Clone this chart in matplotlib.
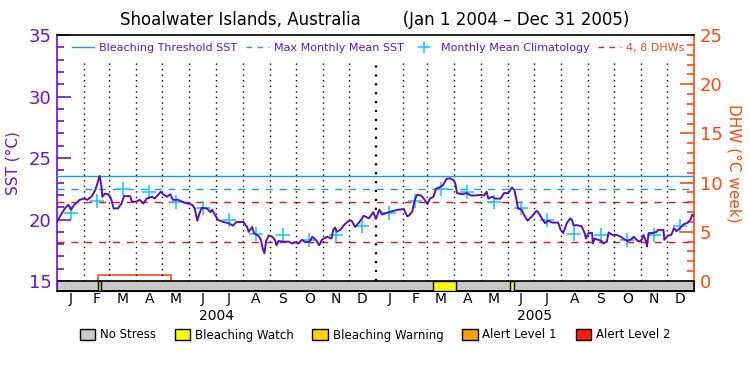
import numpy as np
import matplotlib
matplotlib.use('Agg')
import matplotlib.pyplot as plt
from matplotlib.lines import Line2D
from matplotlib.patches import Patch

# Datos (días desde 1 ene 2004)
sst_day = [0, 3, 9, 13, 16, 20, 26, 31, 35, 40, 44, 47, 49, 51, 52, 55, 59, 62, 65, 70,
           74, 77, 84, 86, 91, 95, 99, 103, 109, 112, 116, 119, 122, 126, 130, 133, 139, 145, 150, 155,
           158, 161, 163, 166, 172, 176, 178, 181, 185, 191, 197, 202, 206, 214, 218, 220, 224, 226, 229, 231,
           234, 236, 238, 240, 243, 247, 250, 252, 254, 260, 266, 270, 273, 277, 281, 285, 290, 293, 297, 301,
           304, 310, 315, 317, 319, 321, 325, 330, 335, 338, 342, 346, 352, 358, 363, 366, 370, 373, 377, 381,
           386, 392, 398, 402, 405, 408, 410, 413, 418, 422, 425, 428, 432, 435, 440, 443, 447, 451, 455, 457,
           459, 465, 470, 475, 480, 486, 490, 493, 495, 499, 503, 509, 513, 518, 522, 525, 527, 529, 533, 537,
           540, 545, 550, 552, 556, 560, 564, 568, 575, 578, 581, 585, 589, 591, 593, 596, 602, 605, 607, 610,
           614, 615, 617, 621, 625, 627, 631, 633, 637, 642, 647, 651, 655, 659, 662, 665, 668, 671, 673, 676,
           677, 679, 684, 688, 690, 696, 697, 701, 705, 708, 711, 715, 719, 724, 727, 729, 731]
sst_val = [19.8, 20.2, 20.9, 21.2, 20.8, 21.2, 21.6, 21.7, 21.6, 21.9, 22.4, 23.1, 23.55, 22.7, 21.85, 22.1, 22.05, 21.7, 20.9, 20.9,
           21.3, 21.9, 21.9, 21.45, 21.45, 21.6, 21.3, 21.7, 21.85, 21.7, 22.0, 22.25, 22.05, 21.85, 22.05, 21.6, 21.6, 21.4, 21.3, 21.2,
           20.9, 19.9, 20.4, 20.95, 20.9, 20.6, 20.8, 20.4, 19.95, 19.8, 19.7, 19.5, 19.8, 19.8, 19.4, 19.0, 19.4, 18.9, 18.75, 18.7,
           18.35, 17.65, 17.25, 18.25, 18.7, 18.6, 18.35, 17.9, 18.25, 18.2, 18.2, 18.05, 18.15, 18.05, 18.35, 18.15, 18.2, 18.6, 18.35, 17.9,
           18.35, 18.6, 18.45, 19.15, 19.35, 19.0, 19.15, 19.6, 19.9, 19.9, 19.4, 19.7, 20.3, 20.1, 20.6, 20.05, 20.8, 20.4, 20.5, 20.6,
           20.7, 20.8, 20.85, 20.25, 20.4, 20.7, 21.45, 22.0, 21.95, 21.6, 21.25, 21.7, 21.85, 22.5, 22.65, 22.8, 23.3, 23.35, 23.2, 22.95,
           22.15, 22.05, 22.15, 21.95, 21.95, 22.0, 21.95, 22.25, 21.7, 21.85, 21.7, 21.7, 22.15, 22.15, 22.6, 22.4, 21.7, 20.9, 20.8, 20.25,
           19.9, 20.25, 20.7, 20.6, 20.15, 19.7, 19.9, 19.75, 19.75, 19.15, 18.9, 19.7, 20.1, 19.95, 19.5, 19.55, 19.45, 19.0, 18.45, 18.9,
           18.9, 18.05, 18.45, 18.35, 18.25, 18.05, 18.2, 18.95, 18.75, 18.75, 18.6, 18.4, 18.25, 18.4, 18.6, 18.35, 18.2, 18.35, 18.75, 18.2,
           17.8, 18.9, 18.9, 19.0, 19.15, 19.15, 18.35, 18.7, 18.75, 19.3, 19.05, 19.3, 19.6, 19.75, 20.0, 20.4, 20.25]

clim_month = [20.5, 21.5, 22.5, 22.2, 21.45, 20.9, 19.95, 18.85, 18.7, 18.35, 18.7, 19.5]
threshold = 23.5
mmm = 22.5
dhw_lines = [4, 8]

dhw_day = [47, 47, 131, 131]
dhw_val = [0, 0.6, 0.6, 0]

# franjas de estrés: (inicio, fin, nivel)
stress = [(47, 51, 'Bleaching Warning'), (432, 458, 'Bleaching Watch'), (520, 524, 'Bleaching Watch')]
stress_colors = {'No Stress': '#c8c8c8', 'Bleaching Watch': '#ffff00', 'Bleaching Warning': '#ffd200',
                 'Alert Level 1': '#ffa000', 'Alert Level 2': '#ff2000'}

months = ['J', 'F', 'M', 'A', 'M', 'J', 'J', 'A', 'S', 'O', 'N', 'D']
years = ['2004', '2005']

purple = '#6a10d8'
linec = '#5510c0'
orange = '#ff4a10'
blue = '#1499ff'
cyan = '#20c8f8'

start = np.datetime64('2004-01-01')
bounds = np.arange(np.datetime64('2004-01'), np.datetime64('2006-02'), np.timedelta64(1, 'M')).astype('datetime64[D]')
bdays = (bounds - start).astype(int)
mids = (bdays[:-1] + bdays[1:]) / 2

fig = plt.figure(figsize=(7.5, 3.75), dpi=100)
ax = fig.add_axes([57/750, 1-291/375, (694-57)/750, (291-35)/375])
ax2 = ax.twinx()
# el eje de SST encima, para que la franja tape la línea DHW en cero
ax.set_zorder(ax2.get_zorder() + 1)
ax.patch.set_visible(False)

px_sst = 246 / 20
ax.set_ylim(15 - 10/px_sst, 35)
px_dhw = 246 / 25
ax2.set_ylim(-10/px_dhw, 25)
ax.set_xlim(0, 731)
ax2.set_xlim(0, 731)

# líneas verticales de los meses
for i, d in enumerate(bdays[1:-1]):
    lw = 1.6 if i == 11 else 1.0
    ax.vlines(d, 15, 32.7, colors='black', linestyles=(0, (1, 3)), linewidth=lw, zorder=1)

# franja de estrés
y0 = ax.get_ylim()[0]
ax.broken_barh([(0, 731)], (y0, 15 - y0), facecolors=stress_colors['No Stress'],
               edgecolor='black', linewidth=1.2, zorder=2)
for a, b, lvl in stress:
    ax.broken_barh([(a, b - a)], (y0, 15 - y0), facecolors=stress_colors[lvl],
                   edgecolor='black', linewidth=1.0, zorder=3)

ax.axhline(threshold, color=blue, linewidth=1.0, zorder=3)
ax.axhline(mmm, color=blue, linewidth=1.0, linestyle=(0, (5, 5)), zorder=3)
for v in dhw_lines:
    ax2.axhline(v, color='#ff1010', linewidth=1.0, linestyle=(0, (5, 5)), zorder=3)

ax.plot(mids, clim_month * 2, linestyle='none', marker='+', markersize=10, markeredgewidth=1.2, color=cyan, zorder=4)
ax.plot(sst_day, sst_val, color=linec, linewidth=1.4, zorder=5)
ax2.plot(dhw_day, dhw_val, color=orange, linewidth=1.2, zorder=5)

# ejes
ax.set_yticks([15, 20, 25, 30, 35])
ax.set_yticks(np.arange(15, 36, 1), minor=True)
ax.tick_params(axis='y', which='major', direction='in', length=10, width=1.2, colors=purple, labelsize=13, pad=4)
ax.tick_params(axis='y', which='minor', direction='in', length=5, width=1.2, colors=purple)
ax.spines['left'].set_color(purple)
ax.spines['left'].set_linewidth(1.2)
ax.spines['right'].set_visible(False)
ax.set_ylabel('SST (°C)', color=purple, fontsize=11, labelpad=6)

ax2.set_yticks([0, 5, 10, 15, 20, 25])
ax2.set_yticks(np.arange(0, 26, 1), minor=True)
ax2.tick_params(axis='y', which='major', direction='in', length=10, width=1.2, colors=orange, labelsize=13, pad=4)
ax2.tick_params(axis='y', which='minor', direction='in', length=5, width=1.2, colors=orange)
ax2.spines['right'].set_color(orange)
ax2.spines['right'].set_linewidth(1.2)
ax2.spines['left'].set_visible(False)
ax2.set_ylabel('DHW (°C week)', color=orange, fontsize=11, rotation=270, labelpad=14)

ax.set_xticks(mids)
ax.set_xticklabels(months * 2, fontsize=10)
ax.tick_params(axis='x', length=0, pad=0.5)
ax.spines['top'].set_linewidth(1.2)
ax.spines['bottom'].set_linewidth(1.2)
ax2.spines['top'].set_visible(False)
for i, y in enumerate(years):
    ax.text(183 + 365 * i, -0.097, y, transform=ax.get_xaxis_transform(), ha='center', va='center', fontsize=10)

fig.text(0.5, 1 - 20/375, 'Shoalwater Islands, Australia        (Jan 1 2004 \u2013 Dec 31 2005)',
         ha='center', va='center', fontsize=12)

handles = [Line2D([], [], color=blue, linewidth=1.0),
           Line2D([], [], color=blue, linewidth=1.0, linestyle=(0, (4, 4))),
           Line2D([], [], color=cyan, marker='+', linestyle='none', markersize=8, markeredgewidth=1.2),
           Line2D([], [], color='#ff1010', linewidth=1.0, linestyle=(0, (4, 4)))]
labels = ['Bleaching Threshold SST', 'Max Monthly Mean SST', 'Monthly Mean Climatology', '4, 8 DHWs']
leg = ax.legend(handles, labels, loc='upper left', bbox_to_anchor=(0.01, 1.0), ncol=4, frameon=False,
                fontsize=8, handlelength=2.0, handletextpad=0.5, columnspacing=0.8, borderaxespad=0.35)
for t, c in zip(leg.get_texts(), [purple, purple, purple, orange]):
    t.set_color(c)

sh = [Patch(facecolor=stress_colors[k], edgecolor='black') for k in stress_colors]
fig.legend(sh, list(stress_colors), loc='center', bbox_to_anchor=(0.5, 1 - 335/375), ncol=5, frameon=False,
           fontsize=8.5, handlelength=1.3, handleheight=1.1, handletextpad=0.4, columnspacing=1.6)

fig.savefig('out.png', dpi=100)
